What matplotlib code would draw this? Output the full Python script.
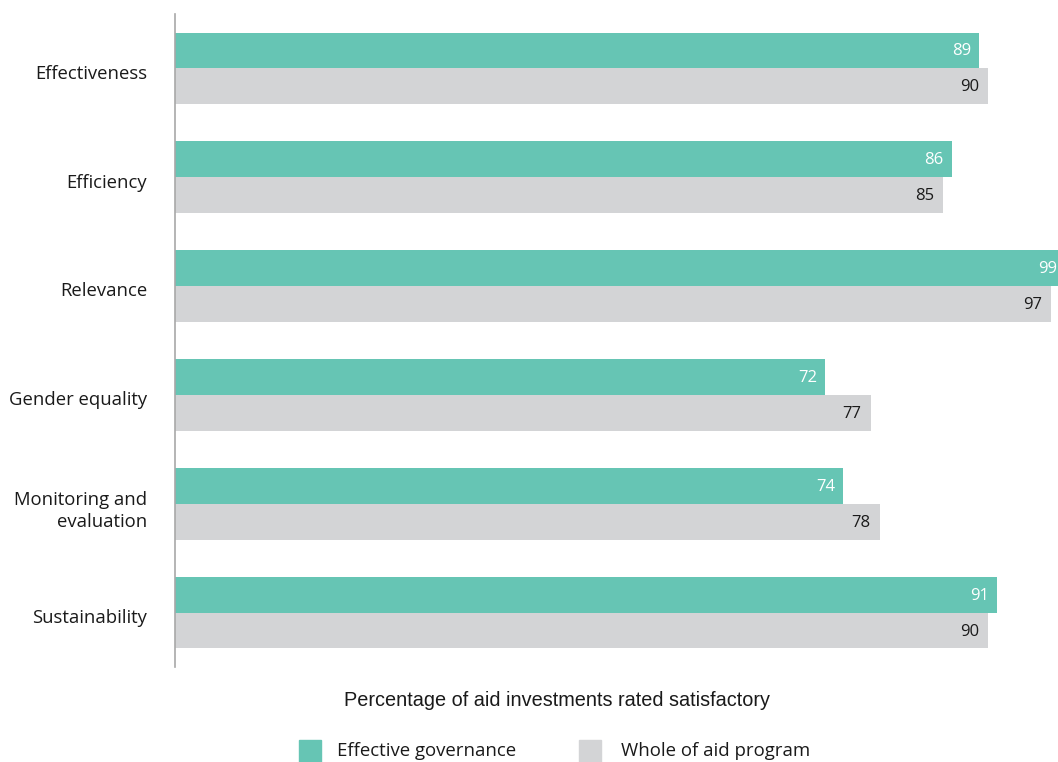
import matplotlib
matplotlib.use("Agg")
import matplotlib.pyplot as plt
from matplotlib.patches import Rectangle
import numpy as np

categories = ["Effectiveness", "Efficiency", "Relevance", "Gender equality",
              "Monitoring and\nevaluation", "Sustainability"]
effective_governance = [89, 86, 99, 72, 74, 91]
whole_of_aid = [90, 85, 97, 77, 78, 90]
series_names = ["Effective governance", "Whole of aid program"]
xlabel = "Percentage of aid investments rated satisfactory"

GREEN = "#66C5B4"
GRAY = "#D3D4D6"
TEXT = "#1a1a1a"
XMAX = 97.75

fig = plt.figure(figsize=(10.58, 7.62), dpi=100)
ax = fig.add_axes([175/1058, 1-667/762, 1-175/1058, (667-14)/762])

y = np.arange(len(categories))
h = 0.33
ax.barh(y - h/2, effective_governance, height=h, color=GREEN, edgecolor="none")
ax.barh(y + h/2, whole_of_aid, height=h, color=GRAY, edgecolor="none")

ax.set_xlim(0, XMAX)
ax.set_ylim(len(categories) - 0.5, -0.5)

for i, (g, w) in enumerate(zip(effective_governance, whole_of_aid)):
    gx = min(g, XMAX)
    ax.annotate(str(g), (gx, i - h/2), xytext=(-8 if g <= XMAX else -1, -1),
                textcoords="offset pixels", ha="right", va="center",
                color="white", fontsize=12, family="Open Sans")
    ax.annotate(str(w), (min(w, XMAX), i + h/2), xytext=(-9, -1),
                textcoords="offset pixels", ha="right", va="center",
                color=TEXT, fontsize=12, family="Open Sans")

ax.set_yticks(y + 0.03)
ax.set_yticklabels(categories, fontsize=13.3, family="Open Sans", color=TEXT,
                   linespacing=1.25)
ax.tick_params(axis="y", length=0, pad=20)
ax.set_xticks([])
for s in ["top", "right", "bottom"]:
    ax.spines[s].set_visible(False)
ax.spines["left"].set_color("#A8A8A8")
ax.spines["left"].set_linewidth(1.2)

fig.text(557/1058, 1-700/762, xlabel, ha="center", va="center",
         fontsize=14.3, family="Liberation Sans", color=TEXT)

# legend
sq = 22
for x0, col, name, tx in [(299, GREEN, series_names[0], 337),
                          (579, GRAY, series_names[1], 621)]:
    fig.patches.append(Rectangle((x0/1058, 1-762/762), sq/1058, sq/762,
                                 transform=fig.transFigure, color=col))
    fig.text(tx/1058, 1-751/762, name, ha="left", va="center",
             fontsize=13.4, family="Open Sans", color=TEXT)

fig.savefig("out.png", dpi=100)
